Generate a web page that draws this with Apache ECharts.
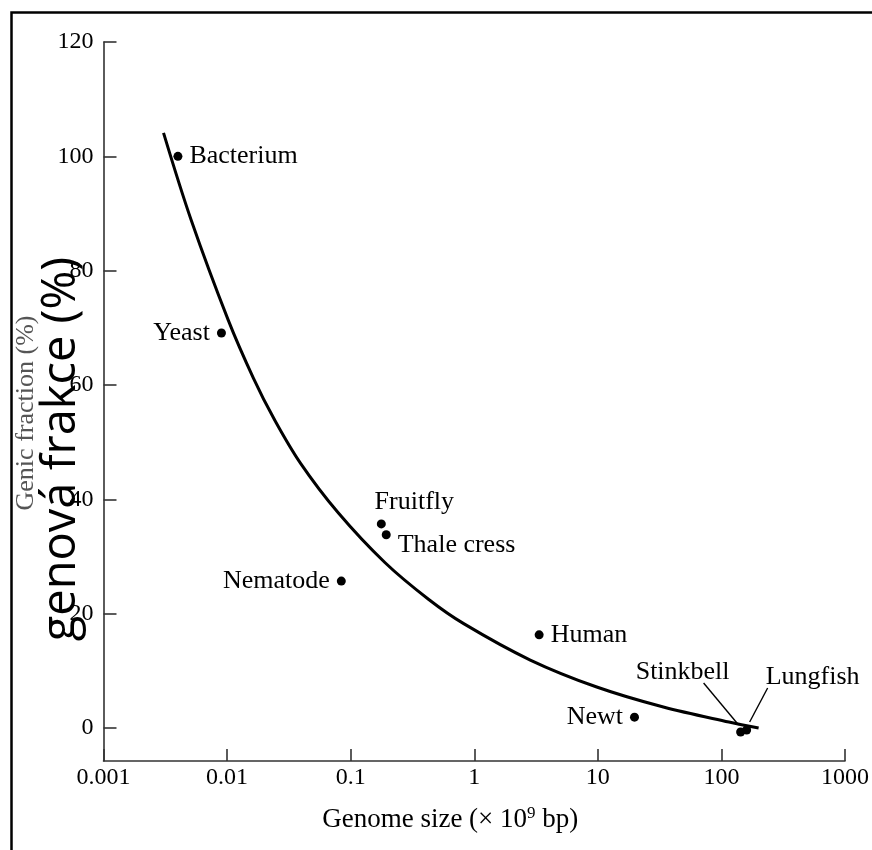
<!DOCTYPE html>
<html>
<head>
<meta charset="utf-8">
<script src="https://cdn.jsdelivr.net/npm/echarts@6/dist/echarts.min.js"></script>
<style>
  html, body { margin: 0; padding: 0; background: #fff; }
  #chart { width: 872px; height: 850px; }
</style>
</head>
<body>
<div id="chart"></div>
<script>
// ---- data ----
const organisms = ['Bacterium', 'Yeast', 'Nematode', 'Fruitfly', 'Thale cress', 'Human', 'Newt', 'Stinkbell', 'Lungfish'];
const genomeSize = [0.004, 0.009, 0.084, 0.177, 0.194, 3.35, 19.8, 143, 160];      // x 10^9 bp
const genicFraction = [100, 69.1, 25.7, 35.7, 33.8, 16.3, 1.9, -0.7, -0.35];       // %

const curveSize = [0.00306, 0.00512, 0.0102, 0.01636, 0.02391, 0.03921, 0.07962, 0.1901, 0.426, 0.8279, 2.84, 9.8, 33.9, 115, 200];
const curveFraction = [104.1, 88.86, 71.4, 61.17, 54.14, 46.35, 37.61, 28.91, 22.53, 18.21, 11.89, 7.17, 3.67, 1.05, 0];

const xTickLabels = ['0.001', '0.01', '0.1', '1', '10', '100', '1000'];
const yTickValues = [0, 20, 40, 60, 80, 100, 120];

const xTitle = 'Genome size (× 10{sup|9} bp)';
const yTitle = 'Genic fraction (%)';
const yTitleOverlay = 'genová frakce (%)';

// ---- label styling (per organism) ----
const SERIF = '"Liberation Serif", "Times New Roman", serif';
const LABEL_SIZE = 26;
const labelStyle = {
  'Bacterium':   { position: 'right', distance: 7 },
  'Yeast':       { position: 'left', distance: 7 },
  'Nematode':    { position: 'left', distance: 7 },
  'Fruitfly':    { position: 'inside', offset: [33, -22] },
  'Thale cress': { position: 'right', distance: 7, offset: [0, 10] },
  'Human':       { position: 'right', distance: 7 },
  'Newt':        { position: 'left', distance: 7 },
};
// pixel offsets (relative to the point) for leader-line labels
const leaderStyle = {
  'Stinkbell': { from: [-2, -7], to: [-37, -49], label: [-58, -60] },
  'Lungfish':  { from: [3, -8],  to: [21, -42],  label: [66, -53] }
};

const pointData = organisms.map((name, i) => {
  const item = { name: name, value: [genomeSize[i], genicFraction[i]] };
  if (labelStyle[name]) item.label = Object.assign({ show: true, formatter: '{b}' }, labelStyle[name]);
  return item;
});
const leaderNames = organisms.filter(n => leaderStyle[n]);
const leaderData = leaderNames.map(n => {
  const i = organisms.indexOf(n);
  return { name: n, value: [genomeSize[i], genicFraction[i]] };
});

const chart = echarts.init(document.getElementById('chart'), null, { renderer: 'canvas' });

const option = {
  backgroundColor: '#ffffff',
  animation: false,
  grid: { left: 103.5, right: 22, top: 42, bottom: 89, containLabel: false },
  xAxis: {
    type: 'log',
    logBase: 10,
    min: 0.001,
    max: 1000,
    name: xTitle,
    nameLocation: 'middle',
    nameGap: 44,
    nameTextStyle: {
      fontFamily: SERIF, fontSize: 27, color: '#000', lineHeight: 30,
      padding: [0, 48, 0, 0],
      rich: {
        sup: { fontFamily: SERIF, fontSize: 17, color: '#000', lineHeight: 30, padding: [0, 0, 12, 0], verticalAlign: 'top' }
      }
    },
    axisLine: { show: true, onZero: false, lineStyle: { color: '#333', width: 1.6 } },
    axisTick: { show: true, inside: true, length: 12, lineStyle: { color: '#333', width: 1.6 } },
    axisLabel: {
      show: true, margin: 5,
      fontFamily: SERIF, fontSize: 24, color: '#000',
      formatter: function (v) { return xTickLabels[Math.round(Math.log10(v)) + 3]; }
    },
    splitLine: { show: false },
    minorTick: { show: false }
  },
  yAxis: {
    type: 'value',
    min: -5.77,
    max: 120,
    axisLine: { show: true, onZero: false, lineStyle: { color: '#333', width: 1.6 } },
    axisTick: { show: true, inside: true, length: 13, customValues: yTickValues, lineStyle: { color: '#333', width: 1.6 } },
    axisLabel: { show: true, margin: 10, customValues: yTickValues, fontFamily: SERIF, fontSize: 24, color: '#000' },
    splitLine: { show: false }
  },
  series: [
    {
      type: 'line',
      data: curveSize.map((x, i) => [x, curveFraction[i]]),
      smooth: 0.35,
      showSymbol: false,
      symbol: 'none',
      lineStyle: { color: '#000', width: 3 },
      z: 2
    },
    {
      type: 'scatter',
      data: pointData,
      symbol: 'circle',
      symbolSize: 9,
      itemStyle: { color: '#000', opacity: 1 },
      label: { fontFamily: SERIF, fontSize: LABEL_SIZE, color: '#000' },
      z: 3
    },
    {
      type: 'custom',
      data: leaderData,
      z: 4,
      renderItem: function (params, api) {
        const name = leaderNames[params.dataIndex];
        const s = leaderStyle[name];
        const p = api.coord([api.value(0), api.value(1)]);
        return {
          type: 'group',
          children: [
            {
              type: 'line',
              shape: { x1: p[0] + s.from[0], y1: p[1] + s.from[1], x2: p[0] + s.to[0], y2: p[1] + s.to[1] },
              style: { stroke: '#000', lineWidth: 1.4 }
            },
            {
              type: 'text',
              style: {
                text: name, x: p[0] + s.label[0], y: p[1] + s.label[1],
                align: 'center', verticalAlign: 'middle',
                fontFamily: SERIF, fontSize: LABEL_SIZE, fill: '#000'
              }
            }
          ]
        };
      }
    }
  ],
  graphic: [
    {
      type: 'rect', left: 9, top: 10, silent: true,
      shape: { width: 900, height: 900 },
      style: { fill: 'none', stroke: '#000', lineWidth: 2.5 }
    },
    {
      type: 'text', x: 26, y: 413, rotation: Math.PI / 2, silent: true,
      style: { text: yTitle, fontFamily: SERIF, fontSize: 26, fill: '#555', align: 'center', verticalAlign: 'middle' }
    },
    {
      type: 'text', x: 62, y: 449, rotation: Math.PI / 2, silent: true, z: 10,
      style: { text: yTitleOverlay, fontFamily: '"Open Sans", "Noto Sans", sans-serif', fontSize: 47, fill: '#000', align: 'center', verticalAlign: 'middle' }
    }
  ]
};

chart.setOption(option);
</script>
</body>
</html>
